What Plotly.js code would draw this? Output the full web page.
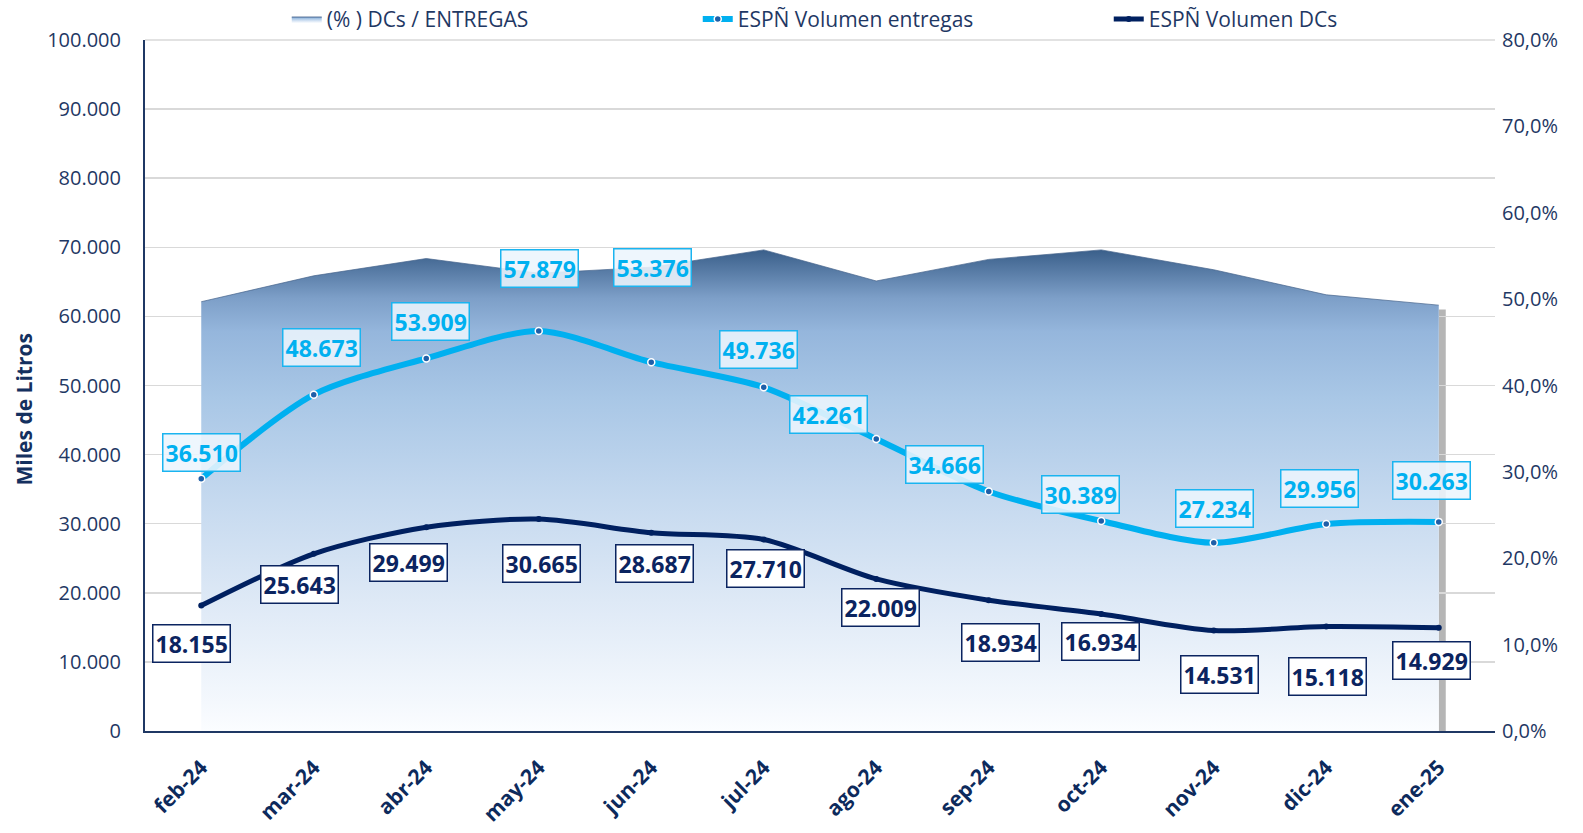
<!DOCTYPE html>
<html>
<head>
<meta charset="utf-8">
<script src="https://cdn.plot.ly/plotly-3.0.1.min.js"></script>
<style>html,body{margin:0;padding:0;background:#fff;}#chart{width:1583px;height:833px;}</style>
</head>
<body>
<div id="chart"></div>
<script>
// ---- data ----
const months = ['feb-24','mar-24','abr-24','may-24','jun-24','jul-24','ago-24','sep-24','oct-24','nov-24','dic-24','ene-25'];
const volEntregas = [36510, 48673, 53909, 57879, 53376, 49736, 42261, 34666, 30389, 27234, 29956, 30263];
const volDCs = [18155, 25643, 29499, 30665, 28687, 27710, 22009, 18934, 16934, 14531, 15118, 14929];
const pctDCs = [0.497, 0.527, 0.547, 0.530, 0.537, 0.557, 0.521, 0.546, 0.557, 0.534, 0.505, 0.493];

// label placement (pixel offsets from the point)
const offE = [[0,-26],[8,-47],[4,-37],[1,-63],[1,-95],[-5,-38],[-48,-24],[-44,-27],[-21,-27],[1,-34],[-7,-36],[-7,-41]];
const offD = [[-10,38],[-14,31],[-18,35],[3,44],[3,31],[2,29],[4,29],[12,42],[-1,28],[6,44],[1,50],[-7,33]];

const navy = '#1f3864';
const FONT = 'Open Sans, Noto Sans, sans-serif';

const traces = [
  {
    type: 'scatter', mode: 'lines', name: '(% ) DCs / ENTREGAS',
    x: months, y: pctDCs, yaxis: 'y',
    fill: 'tozeroy',
    line: {color: 'rgba(70,100,140,0.7)', width: 1},
    fillgradient: {
      type: 'vertical', start: 0, stop: Math.max(...pctDCs),
      colorscale: [[0,'#fbfdff'],[0.06,'#f4f8fd'],[0.27,'#dee9f6'],[0.48,'#c5d9ef'],[0.69,'#a9c7e6'],[0.83,'#95b6dc'],[0.9,'#7d9fc8'],[1,'#3a5f8a']]
    },
    hoverinfo: 'skip'
  },
  {
    type: 'scatter', mode: 'lines+markers', name: 'ESPÑ Volumen entregas',
    x: months, y: volEntregas, yaxis: 'y2',
    line: {color: '#00b0f0', width: 6, shape: 'spline', smoothing: 0.8},
    marker: {size: 7, color: '#1f5fa8', line: {color: '#ffffff', width: 1.5}},
    hoverinfo: 'skip'
  },
  {
    type: 'scatter', mode: 'lines+markers', name: 'ESPÑ Volumen DCs',
    x: months, y: volDCs, yaxis: 'y2',
    line: {color: '#002060', width: 5, shape: 'spline', smoothing: 0.8},
    marker: {size: 6, color: '#002060'},
    hoverinfo: 'skip'
  }
];

const annotations = [];
months.forEach((m, i) => {
  annotations.push({
    x: m, y: volEntregas[i], xref: 'x', yref: 'y2', showarrow: false,
    xshift: offE[i][0], yshift: -offE[i][1],
    text: volEntregas[i].toLocaleString('de-DE'),
    font: {family: FONT, size: 23, color: '#00b0f0', weight: 700},
    bgcolor: 'rgba(236,245,253,0.88)', bordercolor: '#1ab4f0', borderwidth: 1.5, borderpad: 2
  });
  annotations.push({
    x: m, y: volDCs[i], xref: 'x', yref: 'y2', showarrow: false,
    xshift: offD[i][0], yshift: -offD[i][1],
    text: volDCs[i].toLocaleString('de-DE'),
    font: {family: FONT, size: 23, color: '#0b2460', weight: 700},
    bgcolor: '#ffffff', bordercolor: '#0b2460', borderwidth: 1.5, borderpad: 2
  });
});
// y-axis title
annotations.push({
  text: 'Miles de Litros', textangle: -90, xref: 'paper', yref: 'paper',
  x: 0, y: 0.5, xanchor: 'center', yanchor: 'middle', xshift: -122, yshift: -24, showarrow: false,
  font: {family: FONT, size: 21, color: '#14305f', weight: 700}
});

const layout = {
  width: 1583, height: 833,
  margin: {l: 145, r: 88, t: 40, b: 102, autoexpand: false},
  paper_bgcolor: '#ffffff', plot_bgcolor: '#ffffff',
  separators: ',.',
  font: {family: FONT, color: navy},
  showlegend: true,
  legend: {
    orientation: 'h', x: 0.105, xanchor: 'left', y: 1.03, yanchor: 'middle',
    font: {family: FONT, size: 21, color: navy},
    entrywidth: 366, entrywidthmode: 'pixels', bgcolor: 'rgba(0,0,0,0)', traceorder: 'normal'
  },
  xaxis: {
    type: 'category', range: [-0.5, 11.5],
    showline: true, linecolor: '#1f3864', linewidth: 2,
    showgrid: false, ticks: '', tickangle: -45, ticklabelstandoff: 14,
    tickfont: {family: FONT, size: 21, color: '#0d2a5c', weight: 700},
    fixedrange: true
  },
  // percent axis (right, base subplot); its minor grid matches the 10.000 steps of the left axis
  yaxis: {
    side: 'right', range: [0, 0.8], dtick: 0.1, tickformat: '.1%',
    showgrid: false, zeroline: false, showline: false, ticks: '', ticklabelstandoff: 6,
    minor: {dtick: 0.08, tick0: -0.0000001, showgrid: true, gridcolor: '#d9d9d9', gridwidth: 1.5, ticks: ''},
    tickfont: {family: FONT, size: 20, color: navy},
    fixedrange: true
  },
  // volume axis (left), overlaid so the lines draw above the area
  yaxis2: {
    overlaying: 'y', side: 'left', range: [0, 100000], dtick: 10000, tickformat: ',.0f',
    showline: true, linecolor: '#1f3864', linewidth: 2,
    showgrid: false, zeroline: false,
    ticks: '', ticklabelstandoff: 18,
    tickfont: {family: FONT, size: 20, color: navy},
    fixedrange: true
  },
  shapes: [
    {
      type: 'rect', layer: 'below', xref: 'x', yref: 'y',
      xsizemode: 'pixel', xanchor: months[months.length - 1], x0: 0, x1: 7,
      y0: 0, y1: pctDCs[pctDCs.length - 1] - 0.005,
      fillcolor: 'rgba(90,90,90,0.45)', line: {width: 0}
    },
    // top gridline (plotly clips gridlines at the range edge)
    {
      type: 'line', layer: 'below', xref: 'paper', yref: 'paper',
      x0: 0, x1: 1, y0: 1, y1: 1, line: {color: '#d9d9d9', width: 1.5}
    }
  ],
  annotations: annotations
};

Plotly.newPlot('chart', traces, layout, {displayModeBar: false, staticPlot: true});
</script>
</body>
</html>
